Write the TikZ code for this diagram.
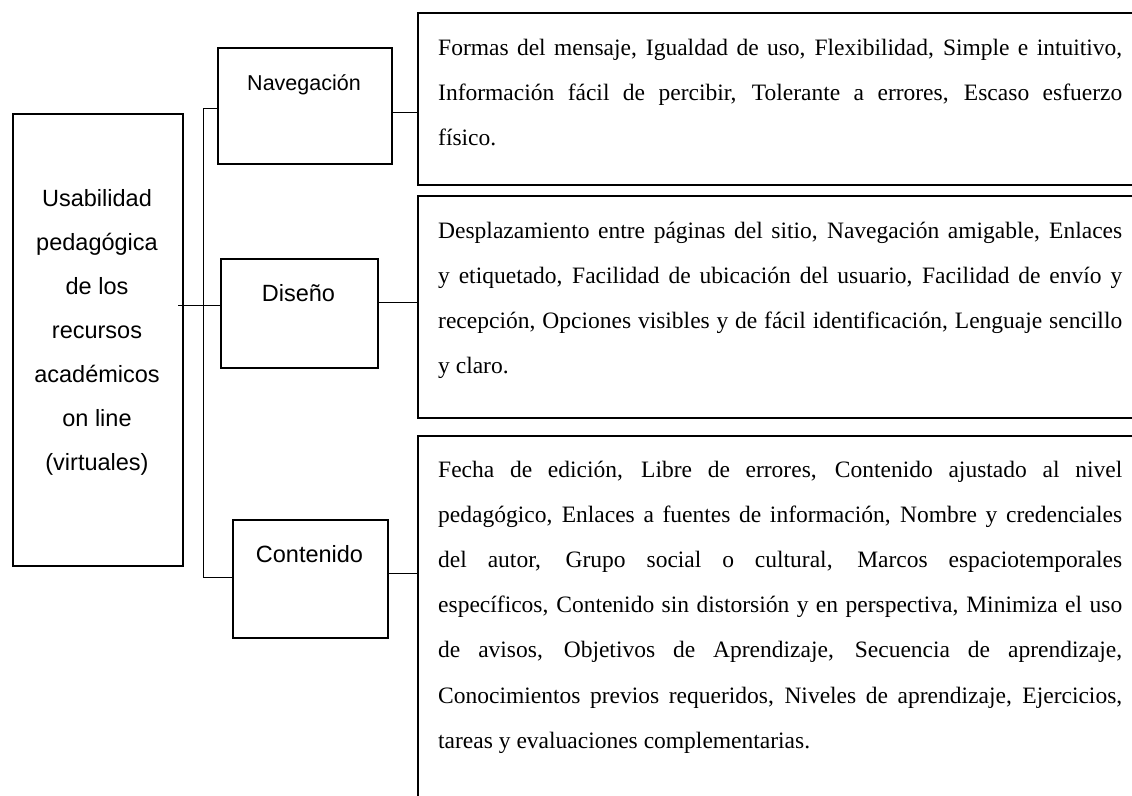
\documentclass[tikz,border=0pt]{standalone}
\usepackage{fontspec}
\setmainfont{Liberation Serif}
\newfontfamily\arialf{Liberation Sans}
\newlength\tw
\setlength\tw{684pt}
\newcommand\jl[1]{{\spaceskip=0pt\xspaceskip=0pt\makebox[\tw][s]{#1}}\\}
\newcommand\lastline[1]{{\spaceskip=0pt\xspaceskip=0pt #1}}
\begin{document}
\begin{tikzpicture}[x=1pt,y=-1pt,
  box/.style={draw, line width=1.8pt, inner sep=0pt, anchor=north west},
  conn/.style={line width=0.9pt},
  lbl/.style={font=\arialf\fontsize{23.5}{44}\selectfont, inner sep=0pt, anchor=base},
  txt/.style={font=\fontsize{23.5}{45.2}\selectfont, inner sep=0pt, text width=\tw, align=left, anchor=base west}]
\useasboundingbox (0,0) rectangle (1132,795);
\clip (0,0) rectangle (1132,795);
\fill[white] (0,0) rectangle (1132,795);

% main box
\node[box, minimum width=170pt, minimum height=452pt] (main) at (12,113) {};
\node[lbl, align=center] (maintxt) at (97,470) {Usabilidad\\pedagógica\\de los\\recursos\\académicos\\on line\\(virtuales)};

% middle boxes
\node[box, minimum width=174pt, minimum height=116pt] (nav) at (217,47) {};
\node[lbl, font=\arialf\fontsize{21.5}{26}\selectfont] (navl) at (304,90) {Navegación};
\node[box, minimum width=157pt, minimum height=109pt] (dis) at (220,258) {};
\node[lbl] (disl) at (298.5,301) {Diseño};
\node[box, minimum width=155pt, minimum height=118pt] (con) at (232,519) {};
\node[lbl] (conl) at (309.5,562) {Contenido};

% right boxes
\node[box, minimum width=760pt, minimum height=172pt] (r1) at (417,12) {};
\node[box, minimum width=760pt, minimum height=222pt] (r2) at (417,195) {};
\node[box, minimum width=760pt, minimum height=420pt] (r3) at (417,435) {};

\node[txt] (t1) at (438,55) {\jl{Formas del mensaje, Igualdad de uso, Flexibilidad, Simple e intuitivo,}\jl{Información fácil de percibir, Tolerante a errores, Escaso esfuerzo}\lastline{físico.}};
\node[txt] (t2) at (438,238) {\jl{Desplazamiento entre páginas del sitio, Navegación amigable, Enlaces}\jl{y etiquetado, Facilidad de ubicación del usuario, Facilidad de envío y}\jl{recepción, Opciones visibles y de fácil identificación, Lenguaje sencillo}\lastline{y claro.}};
\node[txt] (t3) at (438,477) {\jl{Fecha de edición, Libre de errores, Contenido ajustado al nivel}\jl{pedagógico, Enlaces a fuentes de información, Nombre y credenciales}\jl{del autor, Grupo social o cultural, Marcos espaciotemporales}\jl{específicos, Contenido sin distorsión y en perspectiva, Minimiza el uso}\jl{de avisos, Objetivos de Aprendizaje, Secuencia de aprendizaje,}\jl{Conocimientos previos requeridos, Niveles de aprendizaje, Ejercicios,}\lastline{tareas y evaluaciones complementarias.}};

% connectors
\coordinate (bt) at (203,108);
\coordinate (bb) at (203,577);
\coordinate (ms) at (178,305);
\coordinate (y1) at (0,112);
\coordinate (y2) at (0,302);
\coordinate (y3) at (0,573);
\draw[conn] (nav.west |- bt) -- (bt) -- (bb) -- (con.west |- bb);
\draw[conn] (ms) -- (dis.west |- ms);
\draw[conn] (nav.east |- y1) -- (r1.west |- y1);
\draw[conn] (dis.east |- y2) -- (r2.west |- y2);
\draw[conn] (con.east |- y3) -- (r3.west |- y3);
\end{tikzpicture}
\end{document}
